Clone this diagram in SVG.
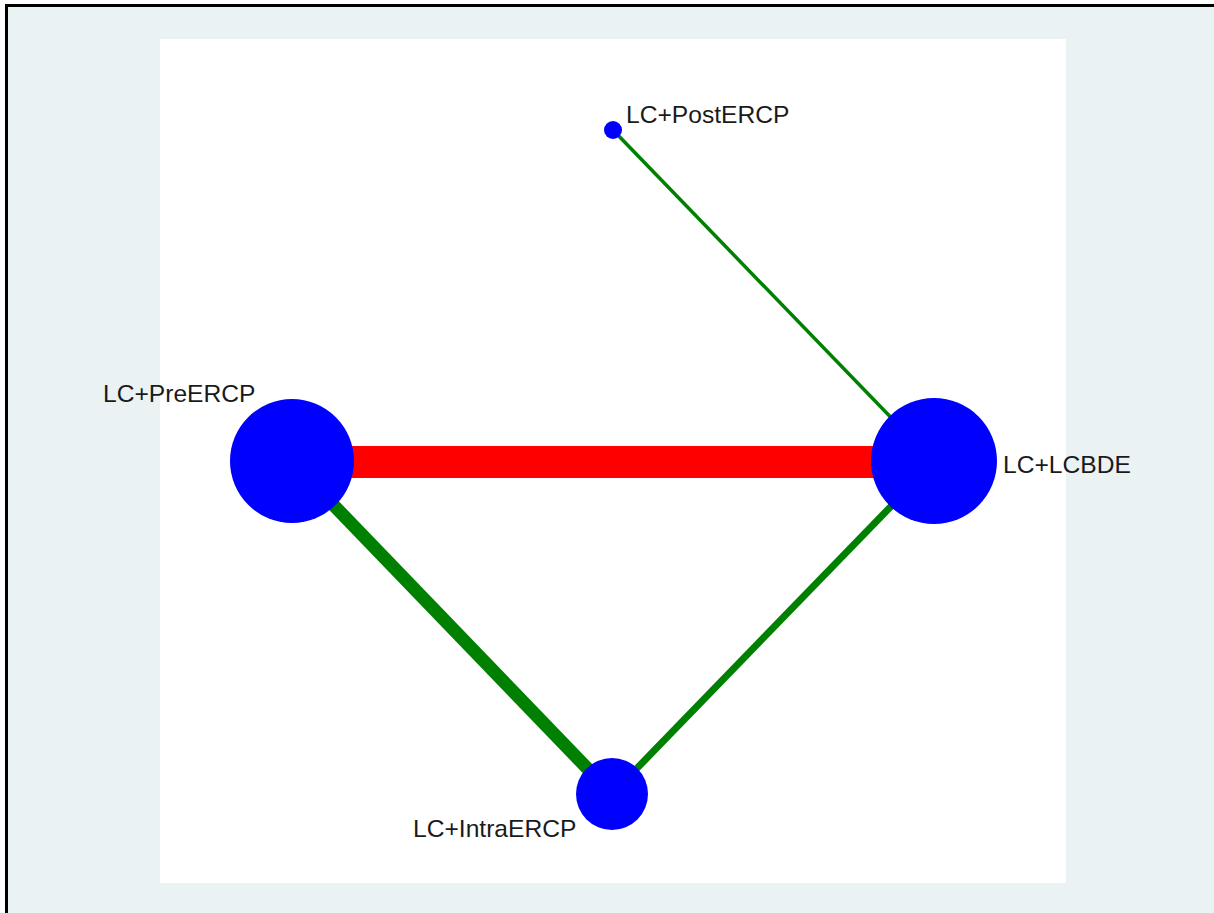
<svg xmlns="http://www.w3.org/2000/svg" width="1214" height="913" viewBox="0 0 1214 913">
  <style>
    .node { fill: #0000ff; }
    .edge { stroke: #008000; stroke-linecap: butt; fill: none; }
    .label { font-family: "Liberation Sans", Arial, sans-serif; font-size: 24.6px; fill: #1a1a1a; }
  </style>
  <!-- graph region and plot area -->
  <rect x="0" y="0" width="1214" height="913" fill="#ffffff"/>
  <rect x="6.5" y="5.5" width="1230" height="930" fill="#eaf2f3" stroke="#000000" stroke-width="3"/>
  <rect x="160" y="39" width="906" height="844" fill="#ffffff"/>

  <!-- connectors -->
  <g id="edges">
    <line id="edge-pre-lcbde" x1="292" y1="462" x2="934" y2="462" stroke="#ff0000" stroke-width="32"/>
    <line id="edge-pre-intra" class="edge" x1="292" y1="462" x2="612" y2="794" stroke-width="13"/>
    <line id="edge-intra-lcbde" class="edge" x1="612" y1="794" x2="934" y2="462" stroke-width="7"/>
    <line id="edge-post-lcbde" class="edge" x1="613" y1="130" x2="934" y2="462" stroke-width="3.5"/>
  </g>

  <g id="node-postercp">
    <circle class="node" cx="613" cy="130" r="9"/>
    <text class="label" x="626" y="123">LC+PostERCP</text>
  </g>
  <g id="node-preercp">
    <circle class="node" cx="292" cy="461" r="62"/>
    <text class="label" x="103" y="402">LC+PreERCP</text>
  </g>
  <g id="node-lcbde">
    <circle class="node" cx="934" cy="461" r="63"/>
    <text class="label" x="1003" y="473">LC+LCBDE</text>
  </g>
  <g id="node-intraercp">
    <circle class="node" cx="612" cy="794" r="36"/>
    <text class="label" x="413" y="837">LC+IntraERCP</text>
  </g>
</svg>
